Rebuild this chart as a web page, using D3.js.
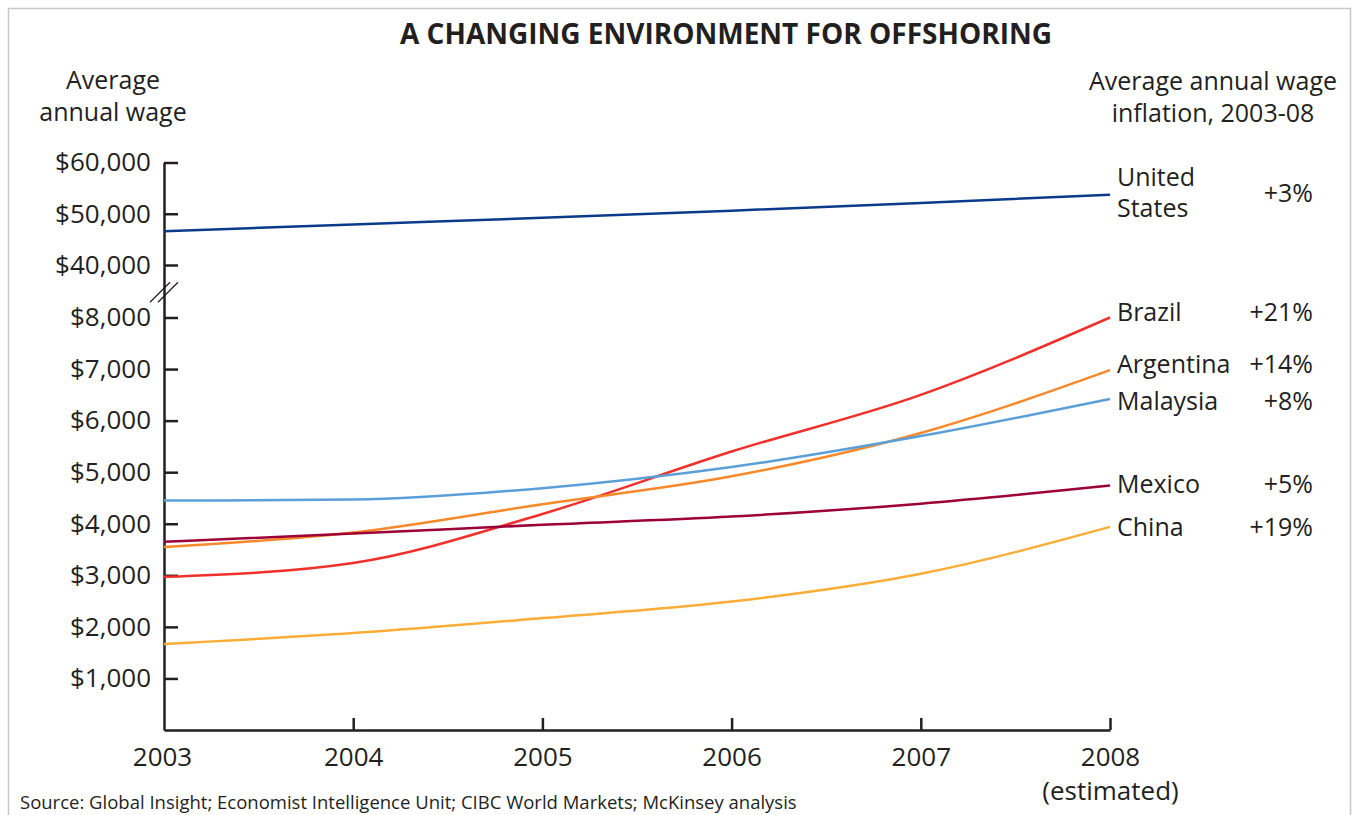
<!DOCTYPE html>
<html>
<head>
<meta charset="utf-8">
<script src="https://cdn.jsdelivr.net/npm/d3@7"></script>
<style>
  html, body { margin: 0; padding: 0; background: #fff; }
  svg { display: block; font-family: "Open Sans", "Noto Sans", sans-serif; }
  .axis path, .axis line { stroke: #231f20; stroke-width: 2.5; }
  .axis text { fill: #231f20; font-size: 26px; font-family: "Open Sans", sans-serif; }
</style>
</head>
<body>
<svg id="chart" width="1353" height="815"></svg>
<script>
// ---- Data ----
const years = [2003, 2004, 2005, 2006, 2007, 2008];
const countries = ["United States", "Brazil", "Argentina", "Malaysia", "Mexico", "China"];
const usWage        = [46600, 47900, 49200, 50600, 52100, 53700];
const brazilWage    = [2970, 3240, 4190, 5400, 6500, 8000];
const argentinaWage = [3550, 3830, 4380, 4920, 5760, 6980];
const malaysiaWage  = [4450, 4470, 4690, 5100, 5700, 6420];
const mexicoWage    = [3650, 3810, 3980, 4140, 4390, 4740];
const chinaWage     = [1670, 1880, 2170, 2490, 3030, 3940];
const inflationLabels = ["+3%", "+21%", "+14%", "+8%", "+5%", "+19%"];
const yTickValues = [1000, 2000, 3000, 4000, 5000, 6000, 7000, 8000, 40000, 50000, 60000];

// ---- Styles ----
const colors = ["#0c3a8a", "#f0302a", "#f7892a", "#5b9fd8", "#9b0036", "#fbad37"];
const labelDy = [0, 3, 3, 11, 7, 9];   // label baseline offsets from line end

const series = [usWage, brazilWage, argentinaWage, malaysiaWage, mexicoWage, chinaWage];

const svg = d3.select("#chart");

// frame
svg.append("rect").attr("x", 8.5).attr("y", 8.5).attr("width", 1342).attr("height", 820)
  .attr("fill", "none").attr("stroke", "#c8c8c8").attr("stroke-width", 1.5);

const x = d3.scaleLinear().domain([2003, 2008]).range([164, 1110]);
const y = d3.scaleLinear().domain([0, 8000, 40000, 60000]).range([730, 317.5, 265, 162.5]);

// title
svg.append("text").attr("x", 726).attr("y", 44).attr("text-anchor", "middle")
  .attr("font-size", 28).attr("font-weight", 700).attr("fill", "#231f20")
  .text("A CHANGING ENVIRONMENT FOR OFFSHORING");

// left axis title
const lt = svg.append("text").attr("text-anchor", "middle").attr("font-size", 25).attr("fill", "#231f20");
lt.append("tspan").attr("x", 113).attr("y", 89).text("Average");
lt.append("tspan").attr("x", 113).attr("y", 121).text("annual wage");

// right header
const rt = svg.append("text").attr("text-anchor", "middle").attr("font-size", 25).attr("fill", "#231f20");
rt.append("tspan").attr("x", 1213).attr("y", 90).text("Average annual wage");
rt.append("tspan").attr("x", 1213).attr("y", 122).text("inflation, 2003-08");

// y axis
const yAxis = d3.axisLeft(y).tickValues(yTickValues)
  .tickFormat(d => "$" + d3.format(",")(d))
  .tickSizeInner(-14).tickSizeOuter(0).tickPadding(13);
svg.append("g").attr("class", "axis").attr("transform", "translate(164,0)").call(yAxis);

// x axis
const xAxis = d3.axisBottom(x).tickValues(years).tickFormat(d3.format("d"))
  .tickSizeInner(-12).tickSizeOuter(0).tickPadding(18);
const gx = svg.append("g").attr("class", "axis").attr("transform", "translate(0,730)").call(xAxis);
gx.selectAll(".tick").filter(d => d === 2003).select("line").remove();
gx.selectAll(".tick").filter(d => d === 2008).select("text")
  .append("tspan").attr("x", 0).attr("dy", "1.3em").text("(estimated)");
gx.selectAll(".tick").filter(d => d === 2003).select("text").attr("dx", -2);

// axis break mark
const bx = 164, by = y(24000);
[-4, 4].forEach(o => {
  svg.append("line")
    .attr("x1", bx - 10 + o).attr("y1", by + 11)
    .attr("x2", bx + 10 + o).attr("y2", by - 9)
    .attr("stroke", "#231f20").attr("stroke-width", 1.3);
});

// lines
const line = d3.line().x((d, i) => x(years[i])).y(d => y(d)).curve(d3.curveMonotoneX);
series.forEach((s, k) => {
  svg.append("path").datum(s).attr("d", line)
    .attr("fill", "none").attr("stroke", colors[k]).attr("stroke-width", 2.5);
});

// labels
series.forEach((s, k) => {
  const ly = y(s[s.length - 1]);
  const t = svg.append("text").attr("font-size", 25).attr("fill", "#231f20");
  if (k === 0) {
    t.append("tspan").attr("x", 1117).attr("y", ly - 9).text("United");
    t.append("tspan").attr("x", 1117).attr("y", ly + 22).text("States");
    svg.append("text").attr("x", 1313).attr("y", ly + 7).attr("text-anchor", "end")
      .attr("font-size", 25).attr("fill", "#231f20").text(inflationLabels[k]);
  } else {
    t.attr("x", 1117).attr("y", ly + labelDy[k]).text(countries[k]);
    svg.append("text").attr("x", 1313).attr("y", ly + labelDy[k]).attr("text-anchor", "end")
      .attr("font-size", 25).attr("fill", "#231f20").text(inflationLabels[k]);
  }
});

// source
svg.append("text").attr("x", 20).attr("y", 809).attr("font-size", 18.5).attr("fill", "#231f20")
  .text("Source: Global Insight; Economist Intelligence Unit; CIBC World Markets; McKinsey analysis");
</script>
</body>
</html>
